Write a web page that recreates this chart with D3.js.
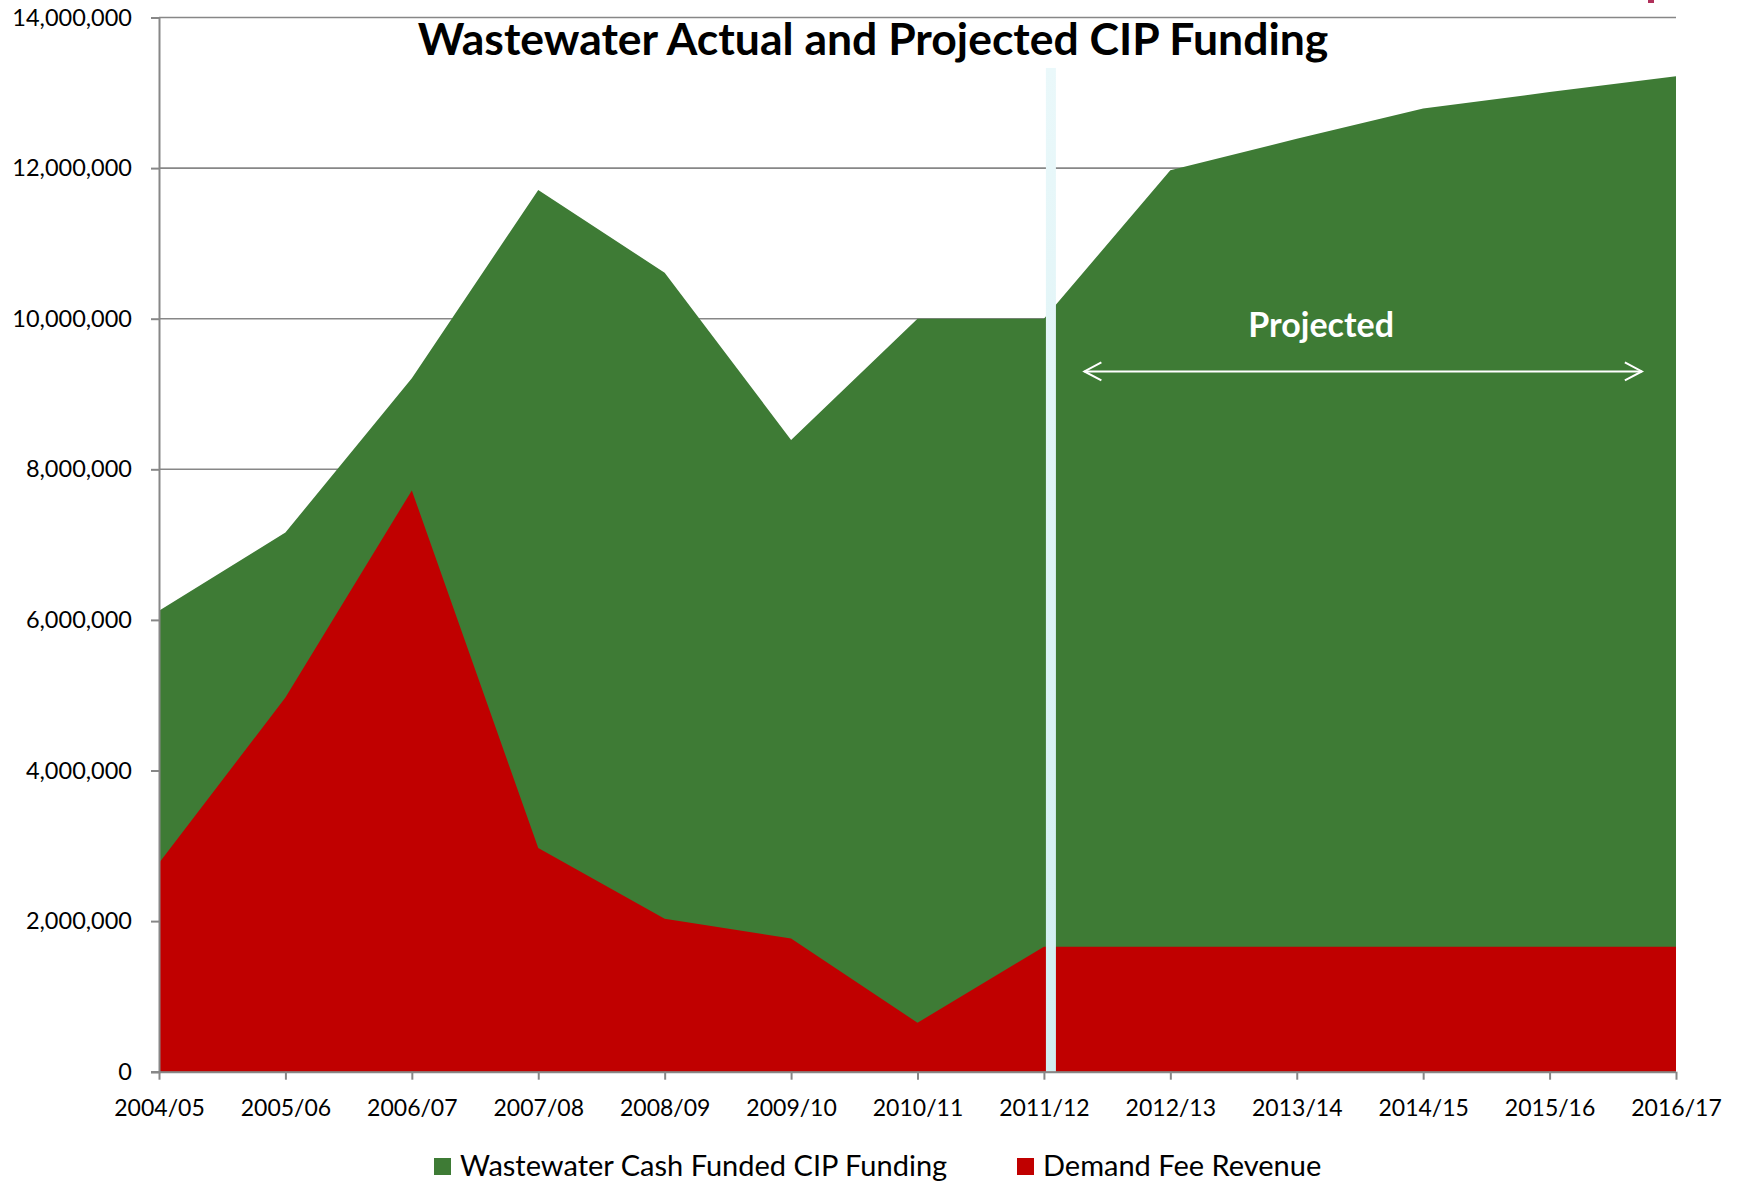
<!DOCTYPE html>
<html>
<head>
<meta charset="utf-8">
<script src="https://cdn.jsdelivr.net/npm/d3@7"></script>
<style>
  html, body { margin: 0; padding: 0; background: #fff; }
  svg { display: block; font-family: Lato, "Open Sans", sans-serif; }
</style>
</head>
<body>
<div id="chart"></div>
<script>
// fiscal years along the x axis
var years = ['2004/05', '2005/06', '2006/07', '2007/08', '2008/09', '2009/10', '2010/11',
  '2011/12', '2012/13', '2013/14', '2014/15', '2015/16', '2016/17'];
// total CIP funding (top of green area), dollars
var cashFunded = [6120000, 7160000, 9210000, 11710000, 10610000, 8390000, 10000000,
  10000000, 11970000, 12390000, 12790000, 13010000, 13220000];
// demand fee revenue (red area), dollars
var demandFee = [2770000, 4970000, 7720000, 2970000, 2030000, 1770000, 650000,
  1660000, 1660000, 1660000, 1660000, 1660000, 1660000];
var yTicks = [0, 2000000, 4000000, 6000000, 8000000, 10000000, 12000000, 14000000];
var projectedFrom = '2011/12';
var legendItems = ['Wastewater Cash Funded CIP Funding', 'Demand Fee Revenue'];

var width = 1745, height = 1185;
var margin = { top: 17.5, right: 69, bottom: 113.3, left: 159 };
var innerW = width - margin.left - margin.right;
var innerH = height - margin.top - margin.bottom;

var green = '#3e7b35', red = '#c00000', grey = '#878787';

var svg = d3.select('#chart').append('svg')
  .attr('width', width)
  .attr('height', height);

var defs = svg.append('defs');
var grad = defs.append('linearGradient')
  .attr('id', 'band')
  .attr('x1', 0).attr('y1', 0).attr('x2', 0).attr('y2', 1);
grad.append('stop').attr('offset', '0%').attr('stop-color', '#eaf8fa');
grad.append('stop').attr('offset', '100%').attr('stop-color', '#d0eef1');

var g = svg.append('g')
  .attr('transform', 'translate(' + margin.left + ',' + margin.top + ')');

var x = d3.scalePoint().domain(years).range([0, innerW]);
var y = d3.scaleLinear().domain([0, 14000000]).range([innerH, 0]);

// gridlines
g.selectAll('.grid')
  .data(yTicks.slice(1))
  .enter().append('line')
  .attr('x1', 0).attr('x2', innerW)
  .attr('y1', function(d) { return y(d); })
  .attr('y2', function(d) { return y(d); })
  .attr('stroke', grey)
  .attr('stroke-width', 1.6);

var area = function(vals) {
  return d3.area()
    .x(function(d, i) { return x(years[i]); })
    .y0(innerH)
    .y1(function(d) { return y(d); })(vals);
};

g.append('path').attr('d', area(cashFunded)).attr('fill', green);
g.append('path').attr('d', area(demandFee)).attr('fill', red);

// projected divider band
var step = x.step();
g.append('rect')
  .attr('x', x(projectedFrom) + 2)
  .attr('y', y(13330000))
  .attr('width', 10)
  .attr('height', innerH - y(13330000))
  .attr('fill', 'url(#band)');

// axes
var yAxis = g.append('g')
  .call(d3.axisLeft(y).tickValues(yTicks).tickSize(8).tickPadding(19)
    .tickFormat(d3.format(',')));
yAxis.select('.domain').attr('stroke', grey).attr('stroke-width', 2);
yAxis.selectAll('.tick line').attr('stroke', grey).attr('stroke-width', 2);
yAxis.selectAll('.tick text')
  .attr('fill', '#000')
  .style('font-size', '23.5px')
  .style('font-family', 'Lato, sans-serif');

var xAxis = g.append('g')
  .attr('transform', 'translate(0,' + innerH + ')')
  .call(d3.axisBottom(x).tickSize(8).tickSizeOuter(0).tickPadding(20));
xAxis.select('.domain').attr('stroke', grey).attr('stroke-width', 2)
  .attr('d', 'M-8,0.5H' + innerW);
xAxis.selectAll('.tick line').attr('stroke', grey).attr('stroke-width', 2);
xAxis.selectAll('.tick text')
  .attr('fill', '#000')
  .style('font-size', '23px')
  .style('font-family', 'Lato, sans-serif');

// projected annotation
var arrowY = y(9300000);
var ax1 = x(projectedFrom) + 0.32 * step, ax2 = x(years[years.length - 1]) - 0.27 * step;
var arrow = g.append('g').attr('stroke', '#fff').attr('fill', 'none')
  .attr('stroke-width', 2);
arrow.append('line').attr('x1', ax1).attr('x2', ax2).attr('y1', arrowY).attr('y2', arrowY);
arrow.append('path').attr('d', 'M' + (ax1 + 17) + ',' + (arrowY - 9) + 'L' + ax1 + ',' + arrowY + 'L' + (ax1 + 17) + ',' + (arrowY + 9));
arrow.append('path').attr('d', 'M' + (ax2 - 17) + ',' + (arrowY - 9) + 'L' + ax2 + ',' + arrowY + 'L' + (ax2 - 17) + ',' + (arrowY + 9));

g.append('text')
  .attr('x', (ax1 + ax2) / 2 - 42)
  .attr('y', y(9760000))
  .attr('text-anchor', 'middle')
  .attr('fill', '#fff')
  .style('font-weight', 'bold')
  .style('font-size', '34px')
  .text('Projected');

// title
svg.append('text')
  .attr('x', 873)
  .attr('y', 55)
  .attr('text-anchor', 'middle')
  .style('font-weight', 'bold')
  .style('font-size', '44.5px')
  .text('Wastewater Actual and Projected CIP Funding');

// small clipped mark at top right
svg.append('rect')
  .attr('x', 1648).attr('y', 0).attr('width', 6).attr('height', 3)
  .attr('fill', '#b0305a');

// legend
var legendX = [434, 1017];
var legendColors = [green, red];
var legend = svg.selectAll('.legend')
  .data(legendItems)
  .enter().append('g')
  .attr('transform', function(d, i) { return 'translate(' + legendX[i] + ',1158)'; });
legend.append('rect')
  .attr('width', 17).attr('height', 17)
  .attr('fill', function(d, i) { return legendColors[i]; });
legend.append('text')
  .attr('x', 26).attr('y', 18)
  .style('font-size', '29px')
  .text(function(d) { return d; });
</script>
</body>
</html>
